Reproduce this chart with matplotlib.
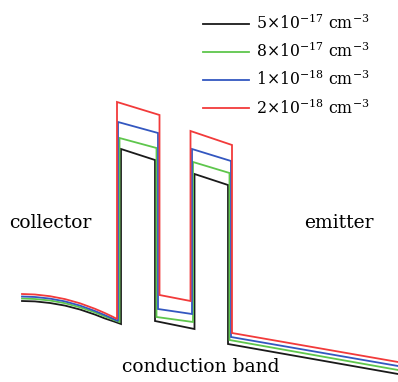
import matplotlib
matplotlib.use("Agg")
import matplotlib.pyplot as plt

# position (arb. units) and energy (eV)
labels = [r"$5{\times}10^{-17}\ \mathrm{cm}^{-3}$",
          r"$8{\times}10^{-17}\ \mathrm{cm}^{-3}$",
          r"$1{\times}10^{-18}\ \mathrm{cm}^{-3}$",
          r"$2{\times}10^{-18}\ \mathrm{cm}^{-3}$"]
colors = ["#1a1a1a", "#5ec64c", "#3357c0", "#f23a3a"]

# black: 5e-17
x_black = [0, 2.6, 5.6, 8.6, 11.6, 14.6, 16.6, 18.4, 19.8, 19.8, 26.6, 26.6, 34.5, 34.5, 41.2, 41.2, 75.2]
e_black = [0.79, 0.786, 0.77, 0.744, 0.705, 0.654, 0.615, 0.585, 0.56, 2.31, 2.20, 0.59, 0.51, 2.06, 1.95, 0.36, 0.06]
# green: 8e-17
x_green = [0, 2.6, 5.6, 8.6, 11.6, 14.6, 16.6, 18.2, 19.5, 19.5, 26.9, 26.9, 34.2, 34.2, 41.5, 41.5, 75.2]
e_green = [0.815, 0.81, 0.795, 0.768, 0.727, 0.676, 0.635, 0.604, 0.58, 2.42, 2.32, 0.63, 0.58, 2.18, 2.07, 0.40, 0.10]
# blue: 1e-18
x_blue = [0, 2.6, 5.6, 8.6, 11.6, 14.6, 16.6, 18.1, 19.2, 19.2, 27.2, 27.2, 34.0, 34.0, 41.8, 41.8, 75.2]
e_blue = [0.835, 0.83, 0.814, 0.786, 0.744, 0.69, 0.648, 0.615, 0.59, 2.58, 2.47, 0.71, 0.66, 2.31, 2.19, 0.43, 0.14]
# red: 2e-18
x_red = [0, 2.6, 5.6, 8.6, 11.6, 14.6, 16.6, 18.0, 19.0, 19.0, 27.5, 27.5, 33.7, 33.7, 42.0, 42.0, 75.2]
e_red = [0.86, 0.855, 0.838, 0.809, 0.767, 0.712, 0.669, 0.636, 0.61, 2.78, 2.65, 0.85, 0.79, 2.49, 2.35, 0.47, 0.18]

xs = [x_black, x_green, x_blue, x_red]
es = [e_black, e_green, e_blue, e_red]

plt.rcParams["mathtext.fontset"] = "dejavuserif"
plt.rcParams["font.family"] = "DejaVu Serif"

fig = plt.figure(figsize=(3.98, 3.82), dpi=100)
ax = fig.add_axes([0, 0, 1, 1])
ax.set_xlim(-4.4, 75.2)
ax.set_ylim(-0.02, 3.80)
ax.axis("off")

handles = []
for x, e, c, lab in zip(xs, es, colors, labels):
    h, = ax.plot(x, e, color=c, lw=1.3, label=lab, solid_joinstyle="miter")
    handles.append(h)

leg = ax.legend(handles=handles, loc="upper left", bbox_to_anchor=(0.48, 0.995),
                frameon=False, fontsize=11.3, handlelength=2.95,
                handletextpad=0.45, labelspacing=0.56, borderaxespad=0.35)

ax.text(0.022, 0.403, "collector", transform=ax.transAxes, fontsize=13.5,
        ha="left", va="baseline")
ax.text(0.765, 0.403, "emitter", transform=ax.transAxes, fontsize=13.5,
        ha="left", va="baseline")
ax.text(0.505, 0.027, "conduction band", transform=ax.transAxes, fontsize=13.5,
        ha="center", va="baseline")

fig.savefig("out.png", dpi=100)
